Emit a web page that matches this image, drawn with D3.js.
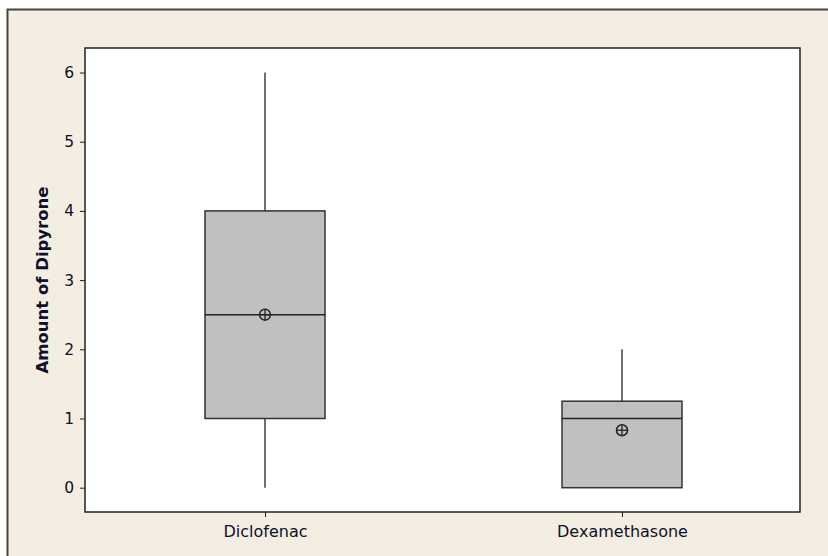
<!DOCTYPE html>
<html><head><meta charset="utf-8">
<script src="https://cdn.jsdelivr.net/npm/d3@7"></script>
<style>html,body{margin:0;padding:0;background:#fff;}svg{display:block;}</style>
</head><body>
<script>
const categories = ["Diclofenac", "Dexamethasone"];
const whiskerLow = [0, 0];
const q1 = [1, 0];
const median = [2.5, 1];
const q3 = [4, 1.25];
const whiskerHigh = [6, 2];
const means = [2.5, 0.83];
const yTicks = [0, 1, 2, 3, 4, 5, 6];
const yTitle = "Amount of Dipyrone";

const W = 828, H = 556;
const svg = d3.select("body").append("svg").attr("width", W).attr("height", H);
const font = "'DejaVu Sans', Verdana, sans-serif";
const textColor = "#10102a";

// outer frame
svg.append("rect").attr("x", 7.5).attr("y", 9.5).attr("width", W).attr("height", H)
  .attr("fill", "#f3ede2").attr("stroke", "#444").attr("stroke-width", 2);

const L = 85, R = 800, T = 48, B = 512;
svg.append("rect").attr("x", L).attr("y", T).attr("width", R - L).attr("height", B - T)
  .attr("fill", "#fff");

const y = d3.scaleLinear().domain([0, 6]).range([487.7, 72.5]);
const x = d3.scalePoint().domain(categories).range([265, 622]);
const boxW = 120;

const yAxis = svg.append("g").attr("transform", `translate(${L},0)`)
  .call(d3.axisLeft(y).tickValues(yTicks).tickSize(5).tickPadding(6).tickFormat(d3.format("d")));
yAxis.select(".domain").remove();
yAxis.selectAll("line").attr("stroke", "#222");
yAxis.selectAll("text").attr("font-family", font).attr("font-size", 15.5).attr("fill", textColor);

const xAxis = svg.append("g").attr("transform", `translate(0,${B})`)
  .call(d3.axisBottom(x).tickSize(5).tickPadding(9));
xAxis.select(".domain").remove();
xAxis.selectAll("line").attr("stroke", "#222");
xAxis.selectAll("text").attr("font-family", font).attr("font-size", 16).attr("fill", textColor);

// plot border
svg.append("rect").attr("x", L).attr("y", T).attr("width", R - L).attr("height", B - T)
  .attr("fill", "none").attr("stroke", "#222").attr("stroke-width", 1.5);

const g = svg.append("g");
categories.forEach((c, i) => {
  const cx = x(c);
  g.append("line").attr("x1", cx).attr("x2", cx).attr("y1", y(whiskerHigh[i])).attr("y2", y(q3[i]))
    .attr("stroke", "#222").attr("stroke-width", 1.3);
  g.append("line").attr("x1", cx).attr("x2", cx).attr("y1", y(q1[i])).attr("y2", y(whiskerLow[i]))
    .attr("stroke", "#222").attr("stroke-width", 1.3);
  g.append("rect").attr("x", cx - boxW / 2).attr("y", y(q3[i])).attr("width", boxW)
    .attr("height", y(q1[i]) - y(q3[i])).attr("fill", "#c0c0c0").attr("stroke", "#333").attr("stroke-width", 1.5);
  g.append("line").attr("x1", cx - boxW / 2).attr("x2", cx + boxW / 2).attr("y1", y(median[i])).attr("y2", y(median[i]))
    .attr("stroke", "#222").attr("stroke-width", 1.5);
  const my = y(means[i]);
  g.append("circle").attr("cx", cx).attr("cy", my).attr("r", 5.5).attr("fill", "none").attr("stroke", "#222").attr("stroke-width", 1.5);
  g.append("line").attr("x1", cx - 5.5).attr("x2", cx + 5.5).attr("y1", my).attr("y2", my).attr("stroke", "#222").attr("stroke-width", 1.3);
  g.append("line").attr("x1", cx).attr("x2", cx).attr("y1", my - 5.5).attr("y2", my + 5.5).attr("stroke", "#222").attr("stroke-width", 1.3);
});

svg.append("text").attr("transform", `translate(48,${(T + B) / 2}) rotate(-90)`)
  .attr("text-anchor", "middle").attr("font-family", font).attr("font-size", 16.5).attr("font-weight", "bold")
  .attr("fill", textColor).text(yTitle);
</script>
</body></html>
